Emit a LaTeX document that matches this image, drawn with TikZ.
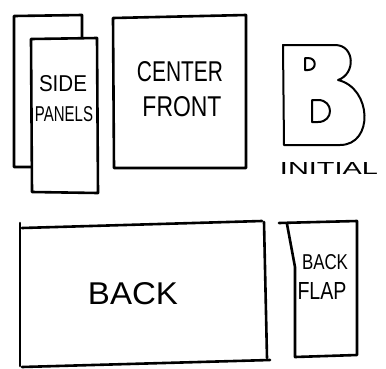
\documentclass[tikz,border=0pt]{standalone}
\usepackage{fontspec}
\setmainfont{Liberation Sans}
\usepackage{graphicx}
\begin{document}
\begin{tikzpicture}[x=1pt,y=-1pt,
 edge/.style={line width=2.6pt,line join=round,line cap=round},
 thin edge/.style={line width=2pt,line join=round,line cap=round},
 lbl/.style={inner sep=0pt}]
\useasboundingbox[fill=white] (0,0) rectangle (386,368);
% side panels, one behind the other
\draw[edge] (14,16) -- (82,15) -- (82,167) -- (14,167) -- cycle;
\draw[edge,fill=white] (31,39) -- (97,38) -- (98,193) -- (32,192) -- cycle;
\node[lbl] (side) at (63,84) {\resizebox{48pt}{16pt}{SIDE}};
\node[lbl] (panels) at (64,114) {\resizebox{58pt}{15pt}{PANELS}};
% center front
\draw[edge] (113,18) -- (246,15) -- (246,168) -- (114,168) -- cycle;
\node[lbl] (center) at (180,72) {\resizebox{86pt}{20pt}{CENTER}};
\node[lbl] (front) at (182,107) {\resizebox{79pt}{20pt}{FRONT}};
% initial
\draw[thin edge] (284,145) -- (283,45) -- (335,45)
  .. controls (355,45) and (356,74) .. (338,80)
  .. controls (372,88) and (374,145) .. (340,145) -- cycle;
\draw[thin edge] (305,58) -- (305,70) -- (308,70)
  .. controls (317,70) and (317,58) .. (308,58) -- cycle;
\draw[thin edge] (312,100) -- (312,122) -- (318,122)
  .. controls (334,122) and (334,100) .. (318,100) -- cycle;
\node[lbl] (initial) at (329,168) {\resizebox{98pt}{12pt}{INITIAL}};
% back
\draw[edge] (20,223) -- (20,366);
\draw[edge] (22,228) -- (262,221);
\draw[edge] (264,222) -- (267,358);
\draw[edge] (22,367) -- (270,360);
\node[lbl] (back) at (133,294) {\resizebox{90pt}{22pt}{BACK}};
% back flap
\draw[edge] (279,223) -- (357,221) -- (357,355) -- (295,357) -- (295,267) -- (287,224);
\node[lbl] (flapback) at (325,262) {\resizebox{46pt}{15pt}{BACK}};
\node[lbl] (flap) at (322,291) {\resizebox{49pt}{17pt}{FLAP}};
\end{tikzpicture}
\end{document}
